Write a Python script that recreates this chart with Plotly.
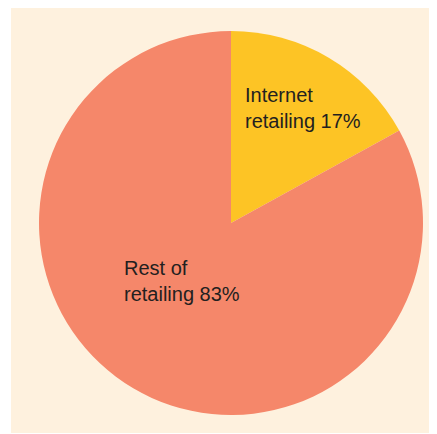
import plotly.graph_objects as go

# page has an 8px body margin, so the figure is drawn 8px in and sized to fit
OFF = 8
W, H = 437 - OFF, 434 - OFF

labels = ["Internet retailing", "Rest of retailing"]
values = [17, 83]
colors = ["#FDC425", "#F5876A"]
label_texts = ["Internet<br>retailing 17%", "Rest of<br>retailing 83%"]

def px_x(x):
    return (x - OFF) / W

def px_y(y):
    return 1 - (y - OFF) / H

fig = go.Figure()
fig.add_trace(go.Pie(
    labels=labels,
    values=values,
    sort=False,
    direction="clockwise",
    rotation=0,
    marker=dict(colors=colors, line=dict(width=0)),
    textinfo="none",
    hoverinfo="skip",
    showlegend=False,
    domain=dict(x=[px_x(39), px_x(423)], y=[px_y(415), px_y(31)]),
))

# label positions (page pixels: left edge, vertical centre of the text block)
pos = [(243, 108), (122, 281)]
annotations = []
for t, (x, y) in zip(label_texts, pos):
    annotations.append(dict(
        text=t, x=px_x(x), y=px_y(y), xref="paper", yref="paper",
        xanchor="left", yanchor="middle", align="left", showarrow=False,
        font=dict(family="Liberation Sans, Arial, sans-serif", size=20, color="#231F20"),
    ))

fig.update_layout(
    width=W, height=H,
    margin=dict(l=0, r=0, t=0, b=0),
    paper_bgcolor="white",
    plot_bgcolor="white",
    shapes=[dict(type="rect", xref="paper", yref="paper",
                 x0=px_x(11), x1=px_x(436), y0=px_y(433), y1=px_y(7),
                 fillcolor="#FEF1DE", line=dict(width=0), layer="below")],
    annotations=annotations,
)

fig.write_html("out.html")
